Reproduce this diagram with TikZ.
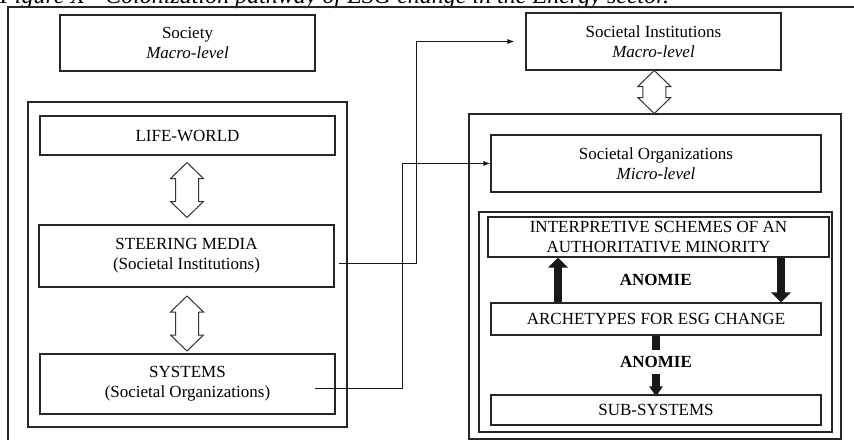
\documentclass[tikz,border=0pt]{standalone}
\usepackage{fontspec}
\setmainfont{Liberation Serif}
\usetikzlibrary{arrows.meta,calc}

\tikzset{
  box/.style={draw=black!85, line width=1.1pt, inner sep=0pt, align=center, font=\fontsize{17}{20}\selectfont},
  panel/.style={draw=black!85, line width=1.1pt, inner sep=0pt},
  link/.style={draw=black!90, line width=0.9pt},
  fat/.style={draw=black!90, line width=8pt, -{Triangle[length=10pt,width=19pt]}},
  hollow/.style={draw=black!80, line width=1pt, fill=white},
  pics/twoway/.style={code={
    \draw[hollow] (0,-#1) -- (16.5,{-#1+16}) -- (11.5,{-#1+16}) -- (11.5,{#1-16}) -- (16.5,{#1-16})
      -- (0,#1) -- (-16.5,{#1-16}) -- (-11.5,{#1-16}) -- (-11.5,{-#1+16}) -- (-16.5,{-#1+16}) -- cycle;
  }}
}

\begin{document}
\begin{tikzpicture}[x=1pt,y=-1pt]
                \useasboundingbox (0,0) rectangle (854,440);
                % title, cut off at the top
                \node [anchor=base west, inner sep=0pt, font=\fontsize{24}{28}\selectfont\itshape] (title) at (0,3) {Figure X - Colonization pathway of ESG change in the Energy sector.};
                \draw [line width=1.1pt, draw=black!85] (8,440) -- (8,7) -- (854,7);
                % left side
                \node [panel, minimum width=319, minimum height=325] (leftpanel) at (187.5,264.5) {};
                \node [box, minimum width=255, minimum height=56] (society) at (187.5,43) {Society\\\textit{Macro-level}};
                \node [box, minimum width=295, minimum height=39] (lifeworld) at (187.5,135.5) {LIFE-WORLD};
                \node [box, minimum width=295, minimum height=62] (steering) at (186.5,256) {STEERING MEDIA\\(Societal Institutions)};
                \node [box, minimum width=295, minimum height=60] (systems) at (187.5,384) {SYSTEMS\\(Societal Organizations)};
                \pic at ($(lifeworld.south)!0.5!(steering.north)$) {twoway=27.5};
                \pic at ($(steering.south)!0.5!(systems.north)+(0,3)$) {twoway=27.5};
                % right side
                \node [box, minimum width=255, minimum height=57] (institutions) at (653.5,41.5) {Societal Institutions\\\textit{Macro-level}};
                \node [panel, minimum width=372, minimum height=325] (rightpanel) at (655,276.5) {};
                \node [box, minimum width=330, minimum height=57] (organizations) at (656,163.5) {Societal Organizations\\\textit{Micro-level}};
                \node [panel, minimum width=353, minimum height=220] (innerpanel) at (655.5,322) {};
                \node [box, minimum width=341, minimum height=40] (interp) at (658.5,237) {INTERPRETIVE SCHEMES OF AN\\AUTHORITATIVE MINORITY};
                \node [box, minimum width=330, minimum height=32] (archetypes) at (656,319) {ARCHETYPES FOR ESG CHANGE};
                \node [box, minimum width=330, minimum height=30] (subsystems) at (656,410) {SUB-SYSTEMS};
                \pic at ($(institutions.south)!0.5!(rightpanel.north)$) {twoway=21.5};
                % anomie arrows
                \coordinate (upx) at (558,0);
                \coordinate (downx) at (781,0);
                \draw [fat] (archetypes.north -| upx) -- (interp.south -| upx);
                \draw [fat] (interp.south -| downx) -- (archetypes.north -| downx);
                \node [font=\fontsize{17}{20}\selectfont\bfseries] (anomieA) at ($(interp.south)!0.5!(archetypes.north)+(-1.5,0)$) {ANOMIE};
                \draw [fat, line width=7.5pt, -{Triangle[length=10pt,width=13pt]}] (archetypes.south) -- ([yshift=-2pt]subsystems.north);
                \node [fill=white, inner xsep=2pt, inner ysep=6pt, font=\fontsize{17}{20}\selectfont\bfseries] (anomieB) at (656,362) {ANOMIE};
                % links between the two sides
                \draw [link, -{Latex[length=7pt,width=5pt]}] ($(steering.east)+(4,7)$) -| ($(institutions.west)+(-109,0)$) -- ([xshift=-11pt]institutions.west);
                \draw [link, -{Latex[length=7pt,width=5pt]}] ($(systems.east)+(-21,4)$) -| ($(organizations.west)+(-88,0)$) -- (organizations.west);
            \end{tikzpicture}
\end{document}
